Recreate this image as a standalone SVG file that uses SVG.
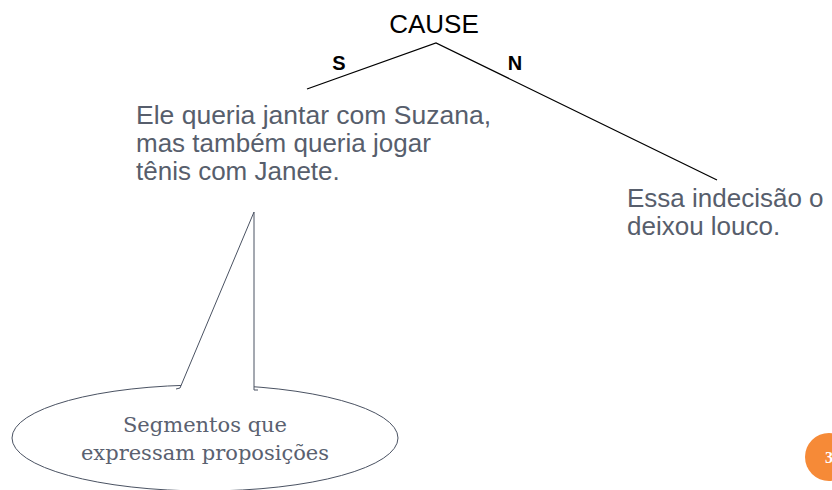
<svg xmlns="http://www.w3.org/2000/svg" width="832" height="490" viewBox="0 0 832 490">
<style>
.body{font-family:"Liberation Sans",Arial,sans-serif;font-size:26px;fill:#575e6c}
.lbl{font-family:"Liberation Sans",Arial,sans-serif;font-size:20px;font-weight:bold;fill:#000}
.ser{font-family:"DejaVu Serif","Liberation Serif",serif;font-size:21px;fill:#5a6170}
.edge{stroke:#000;stroke-width:1.3;fill:none}
.call{stroke:#4a5262;stroke-width:1;fill:#fff}
</style>
<rect width="832" height="490" fill="#fff"/>
<g id="connectors">
<path class="edge" d="M307,89 L436,43 L717,180"/>
<text class="lbl" x="339" y="70" text-anchor="middle">S</text>
<text class="lbl" x="515" y="70" text-anchor="middle">N</text>
</g>
<g id="cause"><text x="434" y="33" text-anchor="middle" style="font-family:'Liberation Sans',Arial,sans-serif;font-size:26px;fill:#000">CAUSE</text></g>
<g id="satellite">
<text class="body" x="136" y="124" textLength="355" lengthAdjust="spacingAndGlyphs">Ele queria jantar com Suzana,</text>
<text class="body" x="136" y="152">mas também queria jogar</text>
<text class="body" x="136" y="180">tênis com Janete.</text>
</g>
<g id="nucleus">
<text class="body" x="627" y="207">Essa indecisão o</text>
<text class="body" x="627" y="235">deixou louco.</text>
</g>
<g id="callout">
<ellipse class="call" cx="205" cy="438" rx="193" ry="53"/>
<path class="call" d="M176,389 L180,388 L254,212 L254,390 L258,390" stroke-linejoin="miter"/>
<text class="ser" x="205" y="432" text-anchor="middle">Segmentos que</text>
<text class="ser" x="205" y="460" text-anchor="middle">expressam proposições</text>
</g>
<g id="page">
<circle cx="829" cy="457" r="24" fill="#f68a37"/>
<text x="825" y="463" style="font-family:'Liberation Serif',serif;font-size:16px;font-weight:bold;fill:#fff">3</text>
</g>
</svg>
